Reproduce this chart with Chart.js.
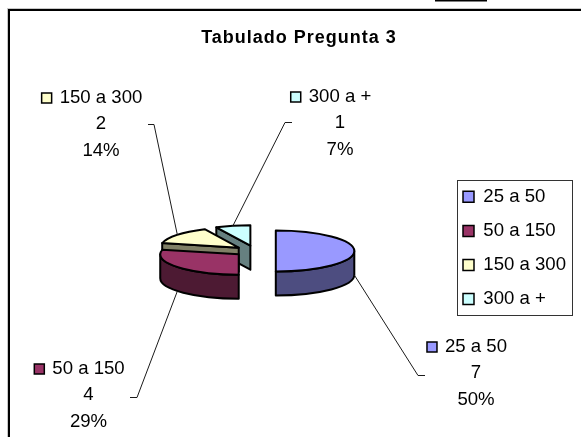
<!DOCTYPE html>
<html>
<head>
<meta charset="utf-8">
<title>Tabulado Pregunta 3</title>
<script src="https://cdn.jsdelivr.net/npm/chart.js@4/dist/chart.umd.min.js"></script>
<style>
    html, body { margin: 0; padding: 0; background: #ffffff; }
    canvas { display: block; }
</style>
</head>
<body>
<canvas id="pieChart" width="581" height="437"></canvas>
<script>
// Chart data
const chartTitle = "Tabulado Pregunta 3";
const categories = ["25 a 50", "50 a 150", "150 a 300", "300 a +"];
const counts = [7, 4, 2, 1];
const percentLabels = ["50%", "29%", "14%", "7%"];
const topColors = ["#9999ff", "#993366", "#ffffcc", "#ccffff"];
const sideColors = ["#4d4d80", "#4d1a33", "#808066", "#668080"];

// Look of the fake 3D pie
const pieRadius = 78.5;
const explode = 20.8;
const tilt = 0.26;
const depth = 24;
const textFont = '18.6px "Liberation Sans", Arial, sans-serif';

// Where each data label sits: text centre, first line y, elbow of the leader line
const labelX = [476, 88.5, 101, 340];
const labelY = [347, 369, 98, 97];
const elbows = [[425, 375, 418], [130, 397, 137], [148, 124, 154], [292, 122, 285]];
const lineGap = 25.7;

/* --------------------------------------------------
   SLICE GEOMETRY (taken from the arc Chart.js laid out)
-------------------------------------------------- */
function sliceShape(arc) {
    const mid = (arc.startAngle + arc.endAngle) / 2;
    return {
        cx: arc.x + Math.cos(mid) * explode,
        cy: arc.y + Math.sin(mid) * explode * tilt,
        r: arc.outerRadius,
        ry: arc.outerRadius * tilt,
        start: arc.startAngle,
        end: arc.endAngle,
        mid: mid
    };
}

function drawCutWall(ctx, s, angle) {
    const px = s.cx + s.r * Math.cos(angle);
    const py = s.cy + s.ry * Math.sin(angle);
    ctx.beginPath();
    ctx.moveTo(s.cx, s.cy);
    ctx.lineTo(px, py);
    ctx.lineTo(px, py + depth);
    ctx.lineTo(s.cx, s.cy + depth);
    ctx.closePath();
    ctx.fill();
    ctx.stroke();
}

function drawSlice(ctx, arc, topColor, sideColor) {
    const s = sliceShape(arc);
    ctx.save();
    ctx.lineWidth = 2;
    ctx.lineJoin = "round";
    ctx.strokeStyle = "#000000";
    ctx.fillStyle = sideColor;

    // only walls that face the viewer
    if (Math.cos(s.start) < -0.01) drawCutWall(ctx, s, s.start);
    if (Math.cos(s.end) > 0.01) drawCutWall(ctx, s, s.end);

    const from = Math.max(s.start, 0);
    const to = Math.min(s.end, Math.PI);
    if (to > from) {
        ctx.beginPath();
        ctx.ellipse(s.cx, s.cy, s.r, s.ry, 0, from, to);
        ctx.ellipse(s.cx, s.cy + depth, s.r, s.ry, 0, to, from, true);
        ctx.closePath();
        ctx.fill();
        ctx.stroke();
    }

    // top face
    ctx.fillStyle = topColor;
    ctx.beginPath();
    ctx.moveTo(s.cx, s.cy);
    ctx.ellipse(s.cx, s.cy, s.r, s.ry, 0, s.start, s.end);
    ctx.closePath();
    ctx.fill();
    ctx.stroke();
    ctx.restore();
}

/* --------------------------------------------------
   PLUGIN: 3D PIE, FRAME, TITLE, DATA LABELS
-------------------------------------------------- */
const pie3dPlugin = {
    id: "pie3d",

    afterLayout(chart) {
        // legend sits in its own box, the pie keeps the whole chart area
        // (bottom is past the box: the legend wraps to a new column if it runs out of room)
        const legend = chart.legend;
        legend.left = 447.5;
        legend.right = 572;
        legend.top = 172;
        legend.bottom = 350;
    },

    beforeDatasetDraw(chart, args) {
        const arcs = chart.getDatasetMeta(args.index).data;
        for (let i = arcs.length - 1; i >= 0; i--) {
            drawSlice(chart.ctx, arcs[i], topColors[i], sideColors[i]);
        }
        return false;
    },

    afterDraw(chart) {
        const ctx = chart.ctx;
        ctx.save();

        // outer frame, open on the right and at the bottom
        ctx.fillStyle = "#c8c8c8";
        ctx.fillRect(7, 8, 574, 1);
        ctx.fillRect(7, 8, 1, 429);
        ctx.fillStyle = "#000000";
        ctx.fillRect(8, 9, 573, 2);
        ctx.fillRect(8, 9, 2, 428);
        ctx.fillRect(435, 0, 52, 1.5);

        // legend box
        ctx.strokeStyle = "#333333";
        ctx.lineWidth = 1;
        ctx.strokeRect(457.5, 180.5, 115, 135);

        // title
        ctx.fillStyle = "#000000";
        ctx.textAlign = "center";
        ctx.textBaseline = "alphabetic";
        ctx.font = 'bold 18px "Liberation Sans", Arial, sans-serif';
        ctx.letterSpacing = "1px";
        ctx.fillText(chartTitle, 299, 43);
        ctx.letterSpacing = "0px";

        const arcs = chart.getDatasetMeta(0).data;
        categories.forEach((name, i) => {
            // leader line from the slice edge to the label
            const s = sliceShape(arcs[i]);
            const bx = s.cx + s.r * Math.cos(s.mid);
            const front = Math.sin(s.mid) >= -0.01;
            const by = s.cy + s.ry * Math.sin(s.mid) + (front ? depth : 0);
            ctx.strokeStyle = "#1a1a1a";
            ctx.lineWidth = 1;
            ctx.beginPath();
            ctx.moveTo(elbows[i][0], elbows[i][1] + 0.5);
            ctx.lineTo(elbows[i][2], elbows[i][1] + 0.5);
            ctx.lineTo(bx, by);
            ctx.stroke();

            // three line label with the small colour square
            ctx.font = textFont;
            ctx.textBaseline = "middle";
            ctx.fillStyle = "#000000";
            const x = labelX[i];
            const y = labelY[i];
            ctx.fillText(name, x, y);
            ctx.fillText(String(counts[i]), x, y + lineGap);
            ctx.fillText(percentLabels[i], x, y + lineGap * 2 + 1);

            const w = ctx.measureText(name).width;
            ctx.fillStyle = topColors[i];
            ctx.strokeStyle = "#000000";
            ctx.lineWidth = 1.5;
            ctx.fillRect(x - w / 2 - 18, y - 5, 10, 10);
            ctx.strokeRect(x - w / 2 - 18, y - 5, 10, 10);
        });

        ctx.restore();
    }
};

/* --------------------------------------------------
   CHART
-------------------------------------------------- */
new Chart(document.getElementById("pieChart"), {
    type: "pie",
    data: {
        labels: categories,
        datasets: [{
            data: counts,
            radius: pieRadius,
            backgroundColor: topColors,
            borderColor: "#000000",
            borderWidth: 1.5
        }]
    },
    options: {
        responsive: false,
        animation: false,
        // chart area centred on the pie
        layout: { padding: { left: 0, right: 71, top: 65, bottom: 0 } },
        plugins: {
            title: { display: false },
            tooltip: { enabled: false },
            legend: {
                position: "chartArea",
                align: "start",
                labels: {
                    boxWidth: 11,
                    boxHeight: 11,
                    padding: 15.5,
                    color: "#000000",
                    font: { family: '"Liberation Sans", Arial, sans-serif', size: 18.6 }
                }
            }
        }
    },
    plugins: [pie3dPlugin]
});
</script>
</body>
</html>
